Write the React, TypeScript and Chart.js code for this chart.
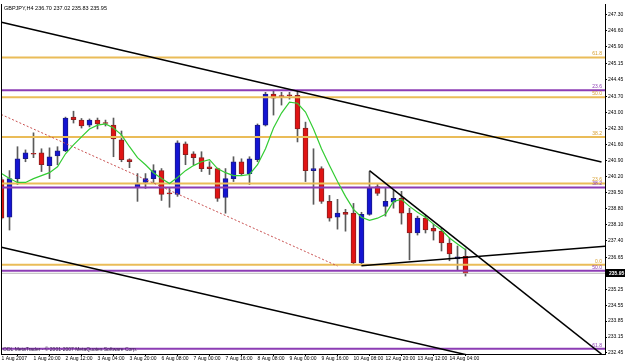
import React, { useEffect, useRef } from 'react';
import { Chart, registerables } from 'chart.js';

Chart.register(...registerables);

// ---- Data (GBPJPY, H4) ----
const opens = [
  240.07, 238.41, 240.11, 240.98, 241.20, 241.24, 240.68, 241.11, 241.33, 242.81,
  242.68, 242.46, 242.68, 242.55, 242.46, 241.81, 240.94, 239.72, 239.94, 240.11,
  240.46, 239.46, 239.42, 241.64, 241.20, 241.03, 240.63, 240.55, 239.28, 240.11,
  240.85, 240.33, 240.94, 242.46, 243.82, 243.73, 243.77, 243.77, 242.33, 240.46,
  240.55, 239.11, 238.41, 238.63, 238.59, 236.41, 238.54, 239.76, 238.89, 239.07,
  239.24, 238.59, 237.72, 238.37, 237.93, 237.80, 237.28, 236.58, 236.70,
];
const highs = [
  240.16, 240.46, 241.51, 241.37, 242.12, 241.42, 241.46, 241.51, 242.81, 243.07,
  242.75, 242.73, 242.77, 242.68, 242.77, 242.20, 240.98, 240.33, 240.33, 240.72,
  240.55, 239.68, 241.77, 241.72, 241.29, 241.29, 240.85, 240.57, 240.55, 241.07,
  240.98, 241.07, 242.51, 243.90, 243.99, 243.90, 243.90, 243.99, 242.59, 241.42,
  240.63, 239.37, 239.20, 238.76, 239.02, 238.63, 240.42, 239.85, 239.68, 239.59,
  239.55, 238.81, 238.46, 238.50, 238.11, 237.93, 237.50, 237.15, 237.02,
];
const lows = [
  238.33, 237.85, 239.85, 240.85, 241.03, 240.42, 240.11, 240.72, 241.29, 242.55,
  242.33, 242.38, 242.29, 242.42, 241.07, 240.85, 240.59, 239.11, 239.68, 239.89,
  239.15, 238.85, 239.33, 240.72, 240.72, 240.42, 240.29, 239.11, 238.59, 239.98,
  240.24, 239.85, 240.85, 242.42, 242.90, 243.34, 243.60, 241.72, 239.98, 238.98,
  239.02, 238.24, 237.89, 237.80, 236.37, 236.28, 238.50, 239.37, 238.46, 238.81,
  238.11, 236.54, 237.63, 237.72, 237.41, 236.93, 236.50, 236.11, 235.83,
];
const closes = [
  238.37, 240.11, 240.98, 241.24, 241.18, 240.72, 241.07, 241.33, 242.77, 242.70,
  242.42, 242.68, 242.51, 242.53, 241.85, 240.94, 240.85, 239.89, 240.11, 240.46,
  239.42, 239.44, 241.68, 241.16, 241.03, 240.55, 240.55, 239.24, 240.11, 240.85,
  240.33, 240.98, 242.46, 243.82, 243.64, 243.71, 243.75, 242.29, 240.46, 240.55,
  239.11, 238.37, 238.59, 238.54, 236.41, 238.54, 239.68, 239.46, 239.11, 239.24,
  238.59, 237.72, 238.37, 237.85, 237.80, 237.28, 236.80, 236.67, 235.95,
];
const maValues = [
  240.33, 240.11, 239.94, 239.94, 240.11, 240.24, 240.37, 240.63, 241.20, 241.59,
  241.94, 242.29, 242.46, 242.51, 242.33, 242.03, 241.51, 241.03, 240.72, 240.37,
  240.11, 239.89, 240.16, 240.46, 240.68, 240.85, 240.94, 240.55, 240.37, 240.24,
  240.24, 240.29, 240.72, 241.42, 242.33, 242.99, 243.47, 243.42, 243.03, 242.29,
  241.42, 240.68, 239.98, 239.33, 238.76, 238.41, 238.28, 238.37, 238.54, 239.11,
  239.20, 238.89, 238.63, 238.41, 238.11, 237.85, 237.50, 237.24, 236.98,
];

const timeLabelBars = [0, 4, 8, 12, 16, 20, 24, 28, 32, 36, 40, 44, 48, 52, 56];
const timeLabels = [
  '1 Aug 2007', '1 Aug 20:00', '2 Aug 12:00', '3 Aug 04:00', '3 Aug 20:00',
  '6 Aug 08:00', '7 Aug 00:00', '7 Aug 16:00', '8 Aug 08:00', '9 Aug 00:00',
  '9 Aug 16:00', '10 Aug 08:00', '12 Aug 20:00', '13 Aug 12:00', '14 Aug 04:00',
];
const priceTicks = [
  247.30, 246.60, 245.90, 245.15, 244.45, 243.70, 243.00, 242.30, 241.60, 240.90,
  240.20, 239.50, 238.80, 238.10, 237.40, 236.65, 235.25, 234.55, 233.85, 233.15, 232.45,
];
const currentPrice = 235.95;
const titleText = 'GBPJPY,H4 236.70 237.02 235.83 235.95';
const copyrightText = 'ODL MetaTrader - \u00A9 2001-2007 MetaQuotes Software Corp.';

const orangeLevels = [245.43, 243.68, 241.94, 239.89, 236.32];
const orangeLabels = ['61.8', '50.0', '38.2', '23.6', '0.0'];
const purpleLevels = [243.99, 239.72, 236.06, 232.64];
const purpleLabels = ['23.6', '38.2', '50.0', '61.8'];

// trend lines: [barIndex, price]
const upperChannel = [[0, 246.98], [75, 240.84]];
const lowerChannel = [[0, 237.09], [75, 231.0]];
const triangleTop = [[46, 240.46], [75, 232.4]];
const triangleBottom = [[45, 236.28], [76, 237.15]];
const redDotted = [[-0.5, 243.0], [42, 236.27]];

const X_MIN = -0.0625;
const X_MAX = 75.4375;
const Y_MIN = 232.405;
const Y_MAX = 247.779;

const BULL = '#1414d2';
const BEAR = '#e01414';
const ORANGE = '#eabc58';
const PURPLE = '#8c3cb4';
const FONT = '"Liberation Sans", Arial, sans-serif';

export default function App() {
  const ref = useRef<HTMLCanvasElement>(null);

  useEffect(() => {
    document.body.style.margin = '0';
    const canvas = ref.current;
    if (!canvas) return;

    const idx = opens.map((_, i) => i);
    const bodyData = idx.map((i) => ({ x: i, y: [opens[i], closes[i]] }));
    const wickData = idx.map((i) => ({ x: i, y: [lows[i], highs[i]] }));
    const bodyColors = idx.map((i) => (closes[i] >= opens[i] ? BULL : BEAR));
    const bodyBorders = idx.map((i) => (closes[i] >= opens[i] ? '#1a1a88' : '#8a2020'));
    const maData = idx.map((i) => ({ x: i, y: maValues[i] }));
    const hl = (p: number) => [{ x: X_MIN - 2, y: p }, { x: X_MAX + 2, y: p }];
    const seg = (pts: number[][]) => pts.map((p) => ({ x: p[0], y: p[1] }));

    const lineBase = {
      type: 'line' as const,
      pointRadius: 0,
      tension: 0,
      fill: false,
    };

    const datasets: any[] = [
      {
        label: 'wicks',
        data: wickData,
        backgroundColor: '#5a5a5a',
        borderWidth: 0,
        barThickness: 1,
        grouped: false,
        order: 20,
      },
      {
        label: 'bodies',
        data: bodyData,
        backgroundColor: bodyColors,
        borderColor: bodyBorders,
        borderWidth: 1,
        borderSkipped: false,
        barThickness: 5,
        minBarLength: 1,
        grouped: false,
        order: 19,
      },
      {
        ...lineBase,
        label: 'current',
        data: hl(currentPrice),
        borderColor: '#b8b8b8',
        borderWidth: 1,
        order: 18,
      },
      ...orangeLevels.map((p, k) => ({
        ...lineBase,
        label: 'o' + k,
        data: hl(p),
        borderColor: ORANGE,
        borderWidth: 2,
        order: 10,
      })),
      ...purpleLevels.map((p, k) => ({
        ...lineBase,
        label: 'p' + k,
        data: hl(p),
        borderColor: PURPLE,
        borderWidth: 2,
        order: 10,
      })),
      {
        ...lineBase,
        label: 'red',
        data: seg(redDotted),
        borderColor: '#c85050',
        borderWidth: 1,
        borderDash: [2, 2],
        order: 5,
      },
      {
        ...lineBase,
        label: 'ma',
        data: maData,
        borderColor: '#33cc33',
        borderWidth: 1.2,
        order: 4,
      },
      ...[upperChannel, lowerChannel, triangleTop, triangleBottom].map((pts, k) => ({
        ...lineBase,
        label: 't' + k,
        data: seg(pts),
        borderColor: '#000000',
        borderWidth: 1.5,
        order: 3,
      })),
    ];

    const overlay = {
      id: 'overlay',
      afterDraw(chart: any) {
        const ctx = chart.ctx;
        const area = chart.chartArea;
        const ys = chart.scales.y;
        ctx.save();
        // left frame
        ctx.strokeStyle = '#000';
        ctx.lineWidth = 1;
        ctx.beginPath();
        ctx.moveTo(area.left + 0.5, area.top);
        ctx.lineTo(area.left + 0.5, area.bottom);
        ctx.stroke();

        // fib labels
        ctx.font = '5px ' + FONT;
        ctx.textAlign = 'right';
        ctx.textBaseline = 'bottom';
        orangeLevels.forEach((p, k) => {
          ctx.fillStyle = '#d8a030';
          ctx.fillText(orangeLabels[k], area.right - 3, ys.getPixelForValue(p) - 1);
        });
        purpleLevels.forEach((p, k) => {
          ctx.fillStyle = PURPLE;
          ctx.fillText(purpleLabels[k], area.right - 3, ys.getPixelForValue(p) - 1);
        });

        // title
        ctx.fillStyle = '#000';
        ctx.textAlign = 'left';
        ctx.textBaseline = 'middle';
        ctx.font = '5.5px ' + FONT;
        ctx.fillText(titleText, area.left + 3, area.top + 4);

        // copyright
        ctx.fillStyle = '#3a2050';
        ctx.font = '5px ' + FONT;
        ctx.fillText(copyrightText, area.left + 2, area.bottom - 4);

        // current price box
        const cy = ys.getPixelForValue(currentPrice);
        ctx.fillStyle = '#000';
        ctx.fillRect(area.right + 1, Math.round(cy) - 4, 20, 8);
        ctx.fillStyle = '#fff';
        ctx.font = 'bold 5px ' + FONT;
        ctx.textAlign = 'left';
        ctx.fillText(currentPrice.toFixed(2), area.right + 4, cy);
        ctx.restore();
      },
    };

    const chart = new Chart(canvas, {
      type: 'bar',
      data: { datasets },
      options: {
        responsive: false,
        devicePixelRatio: 1,
        animation: false,
        events: [],
        layout: { padding: { left: 1, top: 1, right: 0, bottom: 0 } },
        plugins: {
          legend: { display: false },
          tooltip: { enabled: false },
          title: { display: false },
        },
        scales: {
          x: {
            type: 'linear',
            min: X_MIN,
            max: X_MAX,
            offset: false,
            afterBuildTicks: (scale: any) => {
              scale.ticks = timeLabelBars.map((v) => ({ value: v }));
            },
            afterFit: (scale: any) => {
              scale.height = 9;
            },
            ticks: {
              autoSkip: false,
              maxRotation: 0,
              minRotation: 0,
              align: 'start',
              padding: 0,
              color: '#000',
              font: { size: 5, family: FONT },
              callback: (_v: any, i: number) => timeLabels[i],
            },
            grid: {
              drawOnChartArea: false,
              drawTicks: true,
              tickLength: 2,
              color: '#000',
            },
            border: { display: true, color: '#000', width: 1 },
          },
          y: {
            type: 'linear',
            position: 'right',
            min: Y_MIN,
            max: Y_MAX,
            afterBuildTicks: (scale: any) => {
              scale.ticks = priceTicks.map((v) => ({ value: v }));
            },
            afterFit: (scale: any) => {
              scale.width = 20;
            },
            ticks: {
              autoSkip: false,
              padding: 1,
              color: '#000',
              font: { size: 5, family: FONT },
              callback: (v: any) => Number(v).toFixed(2),
            },
            grid: {
              drawOnChartArea: false,
              drawTicks: true,
              tickLength: 2,
              color: '#000',
            },
            border: { display: true, color: '#000', width: 1 },
          },
        },
      } as any,
      plugins: [overlay],
    });

    return () => chart.destroy();
  }, []);

  return (
    <div style={{ width: 625, height: 363, background: '#fff' }}>
      <canvas ref={ref} width={625} height={363} style={{ display: 'block' }} />
    </div>
  );
}
